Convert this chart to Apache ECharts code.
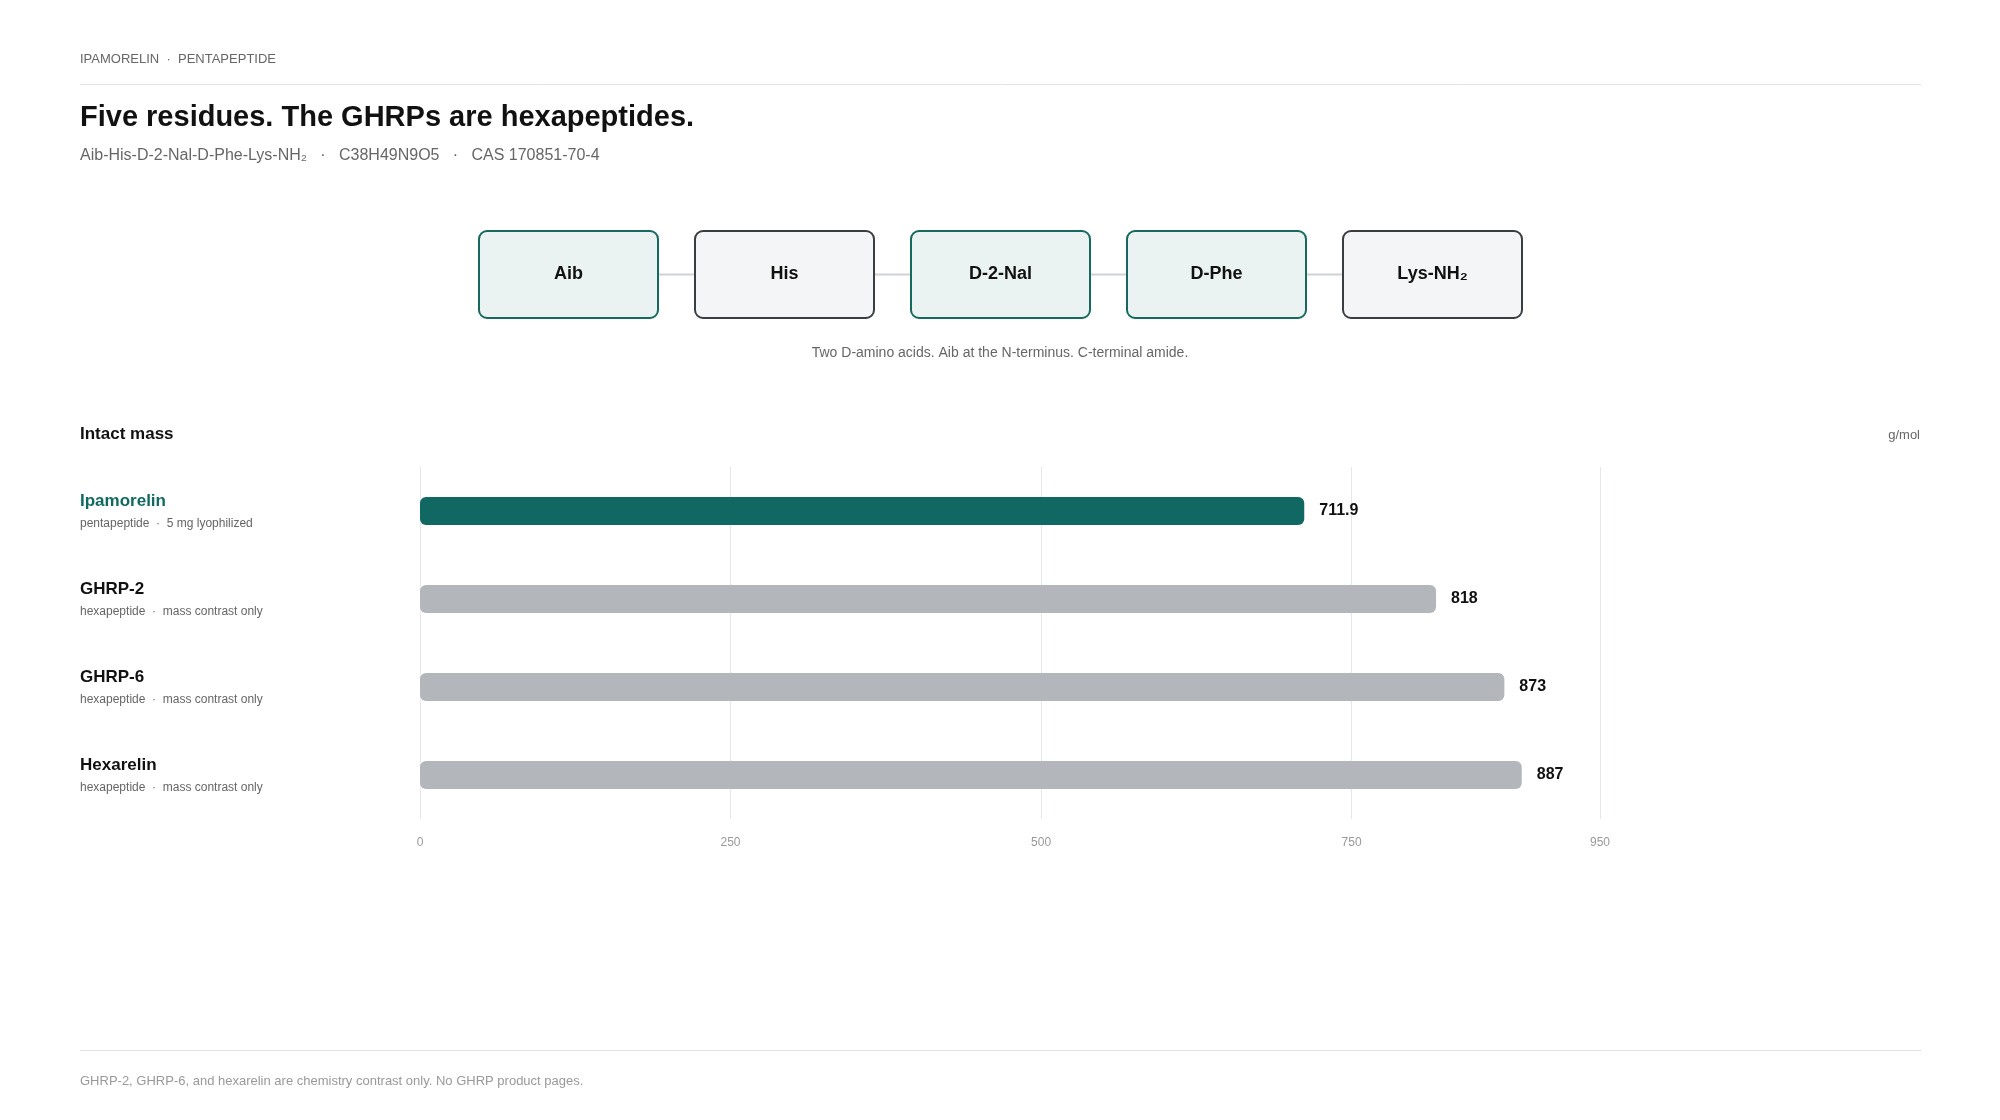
<!DOCTYPE html><html><head><meta charset="utf-8"><script src="https://cdn.jsdelivr.net/npm/echarts@6/dist/echarts.min.js"></script>
<style>html,body{margin:0;background:#fff}#c{width:2000px;height:1120px}</style></head><body><div id="c"></div><script>
const residues=['Aib','His','D-2-Nal','D-Phe','Lys-NH₂'];
const residueTeal=[true,false,true,true,false];
const names=['Ipamorelin','GHRP-2','GHRP-6','Hexarelin'];
const subs=['pentapeptide  ·  5 mg lyophilized','hexapeptide  ·  mass contrast only','hexapeptide  ·  mass contrast only','hexapeptide  ·  mass contrast only'];
const masses=[711.9,818,873,887];
const ticks=[0,250,500,750,950];
const F='"Liberation Sans", Arial, sans-serif';
const chart=echarts.init(document.getElementById('c'));
const g=[];
const txt=(x,y,t,s,c,w,al)=>g.push({type:'text',left:al==='right'?null:x,right:al==='right'?2000-x:null,top:y,style:{text:t,font:`${w||'normal'} ${s}px ${F}`,fill:c}});
txt(80,53,'IPAMORELIN  ·  PENTAPEPTIDE',13,'#666');
g.push({type:'line',shape:{x1:80,y1:84.5,x2:1921,y2:84.5},style:{stroke:'#e3e3e3',lineWidth:1}});
txt(80,103,'Five residues. The GHRPs are hexapeptides.',29,'#111','bold');
txt(80,148,'Aib-His-D-2-Nal-D-Phe-Lys-NH₂   ·   C38H49N9O5   ·   CAS 170851-70-4',16,'#666');
const bx0=479,bw=179,bh=87,by=231,step=216;
residues.forEach((r,i)=>{
  const x=bx0+i*step;
  if(i<residues.length-1)g.push({type:'line',shape:{x1:x+bw,y1:by+bh/2,x2:x+step,y2:by+bh/2},style:{stroke:'#cfd1d4',lineWidth:2}});
  g.push({type:'rect',shape:{x:x,y:by,width:bw,height:bh,r:8},style:{fill:residueTeal[i]?'#eaf3f1':'#f4f5f6',stroke:residueTeal[i]?'#17695f':'#3a3d42',lineWidth:2}});
  g.push({type:'text',x:x+bw/2,y:by+bh/2,style:{text:r,font:`bold 18px ${F}`,fill:'#111',align:'center',verticalAlign:'middle'}});
});
g.push({type:'text',x:1000,y:353,style:{text:'Two D-amino acids. Aib at the N-terminus. C-terminal amide.',font:`14px ${F}`,fill:'#666',align:'center',verticalAlign:'middle'}});
txt(80,426,'Intact mass',17,'#111','bold');
g.push({type:'text',x:1920,y:435,style:{text:'g/mol',font:`13px ${F}`,fill:'#666',align:'right',verticalAlign:'middle'}});
g.push({type:'line',shape:{x1:80,y1:1050.5,x2:1921,y2:1050.5},style:{stroke:'#e3e3e3',lineWidth:1}});
txt(80,1075,'GHRP-2, GHRP-6, and hexarelin are chemistry contrast only. No GHRP product pages.',13,'#999');
chart.setOption({
  animation:false,
  graphic:g,
  grid:{left:420,top:467,width:1180,height:352},
  xAxis:{type:'value',min:0,max:950,interval:250,axisLine:{show:false},axisTick:{show:false},
    splitLine:{lineStyle:{color:'#e6e7e9'}},axisLabel:{color:'#999',fontSize:12,fontFamily:F,margin:18,showMaxLabel:true}},
  yAxis:{type:'category',inverse:true,data:names,axisLine:{show:false},axisTick:{show:false},
    axisLabel:{margin:340,align:'left',formatter:(v,i)=>(i===0?'{a|':'{n|')+v+'}\n{s|'+subs[i]+'}',
      rich:{a:{fontSize:17,fontWeight:'bold',color:'#12695f',fontFamily:F,lineHeight:26},
            n:{fontSize:17,fontWeight:'bold',color:'#111',fontFamily:F,lineHeight:26},
            s:{fontSize:12,color:'#666',fontFamily:F,lineHeight:20}}}},
  series:[{type:'bar',barWidth:28,data:masses.map((v,i)=>({value:v,itemStyle:{color:i===0?'#116862':'#b3b6ba'}})),
    itemStyle:{borderRadius:6},
    label:{show:true,position:'right',distance:15,fontSize:16,fontWeight:'bold',color:'#111',fontFamily:F}}]
});
</script></body></html>
